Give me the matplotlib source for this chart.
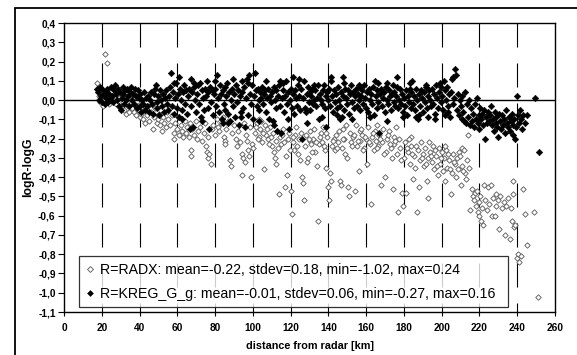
import matplotlib
matplotlib.use('Agg')
import matplotlib.pyplot as plt
from matplotlib.patches import Rectangle
from matplotlib.ticker import FuncFormatter, MultipleLocator

plt.rcParams['font.family'] = ['Liberation Sans', 'DejaVu Sans']
plt.rcParams['axes.unicode_minus'] = False
plt.rcParams['lines.scale_dashes'] = False

# R=RADX (open diamonds): distance [km] and logR-logG
radx_km = [
    17.5, 18, 18.5, 19, 19.5, 20, 20.5, 21, 21.5, 22, 22.5, 23, 23.5, 24, 24.5,
    25, 26, 26.5, 27, 27.5, 28, 29, 29.5, 30, 31, 31.5, 32, 33, 33.5, 34, 34.5,
    35, 36, 36.5, 37, 38, 38.5, 39, 40, 40.5, 41, 42, 42.5, 43, 44, 44.5,
    45, 46, 47, 47.5, 48, 49, 50, 50.5, 51, 52, 52.5, 53, 54, 54.5,
    55, 56, 57, 58, 58.5, 59, 60, 60.5, 61, 62, 62.5, 63, 64, 64.5,
    65, 66, 66.5, 67, 67.5, 68, 69, 70, 70.5, 71, 72, 73, 74, 74.5,
    75, 75.5, 76, 76.5, 77, 78, 78.5, 79, 80, 81, 81.5, 82, 83, 84, 84.5, 85,
    85.5, 86, 87, 88, 88.5, 89, 90, 91, 91.5, 92, 93, 94, 94.5, 95, 95.5,
    96, 96.5, 97, 97.5, 98, 98.5, 99, 99.5, 100, 101, 102, 103, 103.5, 104, 105,
    106, 106.5, 107, 108, 109, 110, 110.5, 111, 111.5, 112, 112.5, 113, 114, 114.5, 115,
    116, 117, 117.5, 118, 118.5, 119, 120, 120.5, 121, 122, 122.5, 123, 124, 124.5, 125,
    126, 126.5, 127, 127.5, 128, 128.5, 129, 130, 130.5, 131, 132, 133, 134, 134.5, 135,
    136, 136.5, 137, 138, 139, 139.5, 140, 140.5, 141, 141.5, 142, 143, 143.5, 144, 145,
    146, 146.5, 147, 148, 148.5, 149, 150, 150.5, 151, 151.5, 152, 153, 154, 154.5, 155,
    156, 156.5, 157, 158, 159, 160, 160.5, 161, 162, 162.5, 163, 164, 164.5, 165,
    166, 166.5, 167, 168, 168.5, 169, 170, 170.5, 171, 172, 173, 174, 174.5, 175,
    176, 176.5, 177, 177.5, 178, 179, 179.5, 180, 180.5, 181, 182, 183, 183.5, 184, 185,
    185.5, 186, 187, 187.5, 188, 188.5, 189, 190, 190.5, 191, 192, 192.5, 193, 194, 195,
    195.5, 196, 197, 198, 198.5, 199, 200, 200.5, 201, 202, 202.5, 203, 204, 205, 205.5,
    206, 207, 207.5, 208, 208.5, 209, 210, 210.5, 211, 212, 212.5, 213, 214, 214.5, 215,
    216, 216.5, 217, 217.5, 218, 218.5, 219, 219.5, 220, 220.5, 221, 221.5, 222, 222.5, 223, 224, 224.5, 225,
    226, 226.5, 227, 228, 228.5, 229, 230, 230.5, 231, 232, 233, 233.5, 234, 235,
    236, 236.5, 237, 237.5, 238, 238.5, 239, 240, 240.5, 241, 242, 243, 244, 245, 249, 251,
    101.5, 102.5, 104.5, 105.5, 107.5, 108.5, 109.5, 113.5, 115.5, 116.5,
    119.5, 121.5, 123.5, 125.5, 129.5, 131.5, 132.5, 133.5, 135.5, 137.5,
    138.5, 142.5, 144.5, 145.5, 147.5, 149.5, 152.5, 153.5, 155.5, 157.5,
    158.5, 159.5, 161.5, 163.5, 165.5, 167.5, 169.5, 171.5, 172.5, 173.5,
    175.5, 178.5, 181.5, 182.5, 184.5, 186.5, 189.5, 191.5, 193.5, 194.5,
    196.5, 197.5, 199.5, 201.5, 203.5, 204.5, 206.5, 209.5, 211.5, 213.5,
]
radx_diff = [
    0.09, 0.05, 0.02, -0.01, 0.04, 0.035, -0.03, 0.0, 0.24, 0.02, 0.01, 0.19, 0.05, -0.02, 0.03,
    0.04, 0.0, 0.06, 0.02, -0.02, 0.05, 0.01, -0.04, 0.03, -0.01, 0.04, -0.05, -0.07, 0.02, -0.03, -0.06,
    -0.02, -0.04, 0.01, -0.06, -0.08, -0.03, -0.05, -0.09, -0.02, -0.07, -0.1, -0.05, -0.12, -0.08, -0.03,
    -0.11, -0.06, -0.15, -0.09, -0.04, -0.12, -0.1, -0.07, -0.13, -0.16, -0.09, -0.12, -0.14, -0.06,
    -0.1, -0.13, -0.08, -0.17, -0.2, -0.12, -0.15, -0.09, -0.18, -0.13, -0.16, -0.19, -0.11, -0.17,
    -0.14, -0.19, -0.12, -0.26, -0.29, -0.15, -0.18, -0.11, -0.2, -0.16, -0.14, -0.21, -0.17, -0.12,
    -0.24, -0.27, -0.3, -0.19, -0.28, -0.33, -0.15, -0.13, -0.18, -0.1, -0.14, -0.16, -0.12, -0.09, -0.19, -0.21,
    -0.23, -0.15, -0.11, -0.31, -0.34, -0.17, -0.13, -0.2, -0.24, -0.16, -0.22, -0.28, -0.39, -0.3, -0.12,
    -0.32, -0.18, -0.21, -0.26, -0.29, -0.14, -0.4, -0.23, -0.25, -0.17, -0.12, -0.1, -0.19, -0.15, -0.22,
    -0.36, -0.13, -0.18, -0.2, -0.14, -0.24, -0.17, -0.27, -0.3, -0.33, -0.21, -0.16, -0.49, -0.19, -0.23,
    -0.15, -0.45, -0.29, -0.39, -0.2, -0.17, -0.47, -0.59, -0.22, -0.26, -0.18, -0.14, -0.28, -0.2, -0.31,
    -0.4, -0.43, -0.52, -0.24, -0.18, -0.32, -0.3, -0.21, -0.16, -0.23, -0.2, -0.27, -0.34, -0.63, -0.23,
    -0.17, -0.22, -0.14, -0.26, -0.35, -0.19, -0.45, -0.52, -0.38, -0.42, -0.24, -0.2, -0.26, -0.18, -0.22,
    -0.42, -0.44, -0.25, -0.15, -0.2, -0.28, -0.3, -0.45, -0.5, -0.17, -0.22, -0.19, -0.47, -0.13, -0.24,
    -0.37, -0.16, -0.21, -0.18, -0.25, -0.2, -0.33, -0.14, -0.23, -0.54, -0.19, -0.26, -0.16, -0.21,
    -0.13, -0.24, -0.18, -0.44, -0.22, -0.15, -0.4, -0.27, -0.2, -0.16, -0.25, -0.46, -0.19, -0.23,
    -0.14, -0.28, -0.58, -0.2, -0.25, -0.48, -0.55, -0.3, -0.22, -0.48, -0.27, -0.33, -0.24, -0.19, -0.41,
    -0.29, -0.35, -0.58, -0.26, -0.45, -0.31, -0.22, -0.28, -0.34, -0.25, -0.42, -0.3, -0.51, -0.27, -0.32,
    -0.24, -0.36, -0.29, -0.39, -0.25, -0.33, -0.27, -0.37, -0.3, -0.42, -0.26, -0.35, -0.31, -0.49, -0.38,
    -0.28, -0.33, -0.4, -0.3, -0.36, -0.27, -0.44, -0.34, -0.25, -0.26, -0.38, -0.41, -0.18, -0.35, -0.57,
    -0.46, -0.5, -0.52, -0.48, -0.55, -0.47, -0.58, -0.53, -0.6, -0.5, -0.63, -0.56, -0.65, -0.44, -0.52, -0.57, -0.45, -0.54,
    -0.44, -0.6, -0.51, -0.6, -0.49, -0.55, -0.52, -0.67, -0.5, -0.56, -0.53, -0.7, -0.55, -0.51,
    -0.72, -0.56, -0.63, -0.49, -0.42, -0.66, -0.65, -0.82, -0.8, -0.84, -0.81, -0.46, -0.59, -0.75, -0.58, -1.02,
    -0.14, -0.2, -0.11, -0.17, -0.15, -0.23, -0.19, -0.25, -0.18, -0.22,
    -0.26, -0.19, -0.24, -0.17, -0.2, -0.27, -0.15, -0.22, -0.19, -0.24,
    -0.17, -0.21, -0.25, -0.16, -0.2, -0.13, -0.24, -0.18, -0.21, -0.15,
    -0.26, -0.19, -0.22, -0.17, -0.25, -0.2, -0.28, -0.18, -0.23, -0.3,
    -0.21, -0.31, -0.25, -0.2, -0.28, -0.24, -0.3, -0.33, -0.22, -0.29,
    -0.26, -0.34, -0.3, -0.24, -0.28, -0.36, -0.32, -0.29, -0.37, -0.31,
]

# R=KREG_G_g (filled diamonds)
kreg_km = [
    17.5, 18, 18.5, 19, 19.5, 20, 20.5, 21, 21.5, 22, 22.5, 23, 23.5, 24, 24.5,
    25, 25.5, 26, 26.5, 27, 27.5, 28, 28.5, 29, 29.5, 30, 30.5, 31, 31.5, 32, 32.5, 33, 33.5, 34, 34.5,
    35, 35.5, 36, 36.5, 37, 37.5, 38, 38.5, 39, 39.5, 40, 40.5, 41, 41.5, 42, 42.5, 43, 43.5, 44, 44.5,
    45, 45.5, 46, 46.5, 47, 47.5, 48, 48.5, 49, 49.5, 50, 50.5, 51, 51.5, 52, 52.5, 53, 53.5, 54, 54.5,
    55, 55.5, 56, 56.5, 57, 57.5, 58, 58.5, 59, 59.5, 60, 60.5, 61, 61.5, 62, 62.5, 63, 63.5, 64, 64.5,
    65, 65.5, 66, 66.5, 67, 67.5, 68, 68.5, 69, 69.5, 70, 70.5, 71, 71.5, 72, 72.5, 73, 73.5, 74, 74.5,
    75, 75.5, 76, 76.5, 77, 77.5, 78, 78.5, 79, 79.5, 80, 80.5, 81, 81.5, 82, 82.5, 83, 83.5, 84, 84.5,
    85, 85.5, 86, 86.5, 87, 87.5, 88, 88.5, 89, 89.5, 90, 90.5, 91, 91.5, 92, 92.5, 93, 93.5, 94, 94.5,
    95, 95.5, 96, 96.5, 97, 97.5, 98, 98.5, 99, 99.5, 100, 100.5, 101, 101.5, 102, 102.5, 103, 103.5, 104, 104.5,
    105, 105.5, 106, 106.5, 107, 107.5, 108, 108.5, 109, 109.5, 110, 110.5, 111, 111.5, 112, 112.5, 113, 113.5, 114, 114.5,
    115, 115.5, 116, 116.5, 117, 117.5, 118, 118.5, 119, 119.5, 120, 120.5, 121, 121.5, 122, 122.5, 123, 123.5, 124, 124.5,
    125, 125.5, 126, 126.5, 127, 127.5, 128, 128.5, 129, 129.5, 130, 130.5, 131, 131.5, 132, 132.5, 133, 133.5, 134, 134.5,
    135, 135.5, 136, 136.5, 137, 137.5, 138, 138.5, 139, 139.5, 140, 140.5, 141, 141.5, 142, 142.5, 143, 143.5, 144, 144.5,
    145, 145.5, 146, 146.5, 147, 147.5, 148, 148.5, 149, 149.5, 150, 150.5, 151, 151.5, 152, 152.5, 153, 153.5, 154, 154.5,
    155, 155.5, 156, 156.5, 157, 157.5, 158, 158.5, 159, 159.5, 160, 160.5, 161, 161.5, 162, 162.5, 163, 163.5, 164, 164.5,
    165, 165.5, 166, 166.5, 167, 167.5, 168, 168.5, 169, 169.5, 170, 170.5, 171, 171.5, 172, 172.5, 173, 173.5, 174, 174.5,
    175, 175.5, 176, 176.5, 177, 177.5, 178, 178.5, 179, 179.5, 180, 180.5, 181, 181.5, 182, 182.5, 183, 183.5, 184, 184.5,
    185, 185.5, 186, 186.5, 187, 187.5, 188, 188.5, 189, 189.5, 190, 190.5, 191, 191.5, 192, 192.5, 193, 193.5, 194, 194.5,
    195, 195.5, 196, 196.5, 197, 197.5, 198, 198.5, 199, 199.5, 200, 200.5, 201, 201.5, 202, 202.5, 203, 203.5, 204, 204.5,
    205, 205.5, 206, 206.5, 207, 207.5, 208, 208.5, 209, 209.5, 210, 210.5, 211, 211.5, 212, 212.5, 213, 213.5, 214, 214.5,
    215, 215.5, 216, 216.5, 217, 217.5, 218, 218.5, 219, 219.5, 220, 220.5, 221, 221.5, 222, 222.5, 223, 223.5, 224, 224.5,
    225, 225.5, 226, 226.5, 227, 227.5, 228, 228.5, 229, 229.5, 230, 230.5, 231, 231.5, 232, 232.5, 233, 233.5, 234, 234.5,
    235, 235.5, 236, 236.5, 237, 237.5, 238, 238.5, 239, 239.5, 240, 240.5, 241, 241.5, 242, 242.5, 243, 244, 245, 249.5, 251.5,
    62.3, 68.7, 73.2, 79.8, 84.2, 89.3, 93.7, 97.2, 103.2, 106.8,
    111.3, 116.2, 118.8, 124.3, 128.7, 132.2, 136.8, 141.2, 144.8, 148.2,
    152.7, 156.2, 161.8, 166.2, 170.8, 176.2, 179.7, 183.2, 188.2, 191.8,
    196.2, 199.8, 203.2, 206.2, 60.8, 86.8, 114.2, 146.2, 171.2, 186.2,
]
kreg_diff = [
    0.06, 0.04, 0.0, 0.07, 0.02, -0.01, 0.05, 0.03, -0.02, 0.04, 0.01, 0.06, -0.01, 0.03, 0.0,
    0.07, 0.02, -0.01, 0.05, 0.08, 0.03, 0.0, 0.06, -0.03, 0.04, -0.05, 0.01, 0.07, 0.03, -0.02, 0.05, 0.0, 0.06, 0.02, -0.03,
    0.04, 0.07, 0.0, 0.03, -0.02, 0.06, 0.02, -0.04, 0.05, 0.01, -0.03, 0.03, -0.06, 0.0, -0.02, 0.04, -0.05, 0.01, -0.03, 0.02,
    -0.06, 0.0, 0.04, -0.02, -0.07, 0.03, 0.06, 0.08, -0.01, -0.04, 0.02, -0.08, 0.05, 0.0, -0.03, 0.03, -0.06, 0.01, 0.05, -0.02,
    -0.05, 0.02, 0.07, 0.14, -0.03, 0.04, 0.09, -0.07, 0.01, 0.09, -0.04, 0.03, -0.09, 0.06, 0.0, -0.05, 0.04, 0.08, -0.02, 0.05,
    -0.07, 0.02, 0.06, -0.15, 0.11, -0.03, 0.04, -0.14, 0.07, 0.0, -0.06, 0.03, 0.08, -0.02, 0.09, -0.09, 0.05, 0.01, -0.05, 0.06,
    0.02, 0.1, -0.04, 0.04, -0.15, 0.07, -0.01, 0.05, -0.08, 0.03, 0.06, -0.03, 0.13, 0.01, -0.06, 0.08, 0.03, -0.1, 0.05, -0.02,
    0.07, -0.05, 0.02, 0.09, -0.07, 0.04, -0.11, 0.0, 0.06, -0.03, 0.03, -0.09, 0.08, -0.01, 0.05, -0.13, 0.02, -0.06, 0.1, 0.04,
    -0.04, 0.07, -0.14, 0.01, 0.11, -0.08, 0.13, 0.03, -0.02, 0.08, -0.1, 0.02, 0.14, 0.05, -0.03, 0.06, 0.0, -0.05, 0.04, 0.01,
    0.07, -0.02, 0.03, 0.05, -0.06, 0.01, 0.06, -0.1, 0.02, -0.01, 0.04, -0.11, 0.07, 0.0, -0.04, 0.05, -0.16, 0.02, 0.08, -0.03,
    -0.17, 0.01, 0.05, -0.06, 0.02, 0.1, -0.02, 0.04, -0.15, 0.0, 0.06, -0.04, 0.12, 0.03, -0.07, 0.05, 0.01, -0.03, 0.08, 0.02,
    -0.05, 0.06, -0.2, 0.01, 0.1, -0.04, -0.06, 0.03, 0.07, -0.01, 0.04, -0.05, 0.02, 0.06, -0.02, 0.0, 0.05, -0.03, 0.01, 0.08,
    -0.1, 0.03, 0.0, -0.02, 0.05, 0.08, -0.04, 0.02, -0.14, 0.04, 0.0, 0.06, -0.03, 0.12, 0.02, -0.06, 0.05, -0.01, 0.03, -0.04,
    0.07, 0.0, -0.03, 0.04, -0.09, 0.12, 0.02, -0.05, 0.06, 0.01, -0.02, 0.05, -0.07, 0.03, 0.08, -0.01, 0.04, -0.04, 0.02, 0.06,
    -0.03, 0.03, 0.0, 0.07, -0.05, 0.02, 0.05, -0.02, 0.08, 0.01, -0.04, 0.04, -0.06, 0.06, 0.0, 0.03, -0.02, 0.07, -0.08, 0.1,
    0.02, -0.04, 0.05, -0.01, -0.17, 0.03, 0.06, -0.03, 0.01, 0.04, -0.06, 0.07, 0.0, -0.02, 0.05, 0.02, -0.05, 0.03, 0.08, -0.01,
    0.04, -0.03, 0.02, 0.12, -0.04, 0.0, 0.06, -0.02, 0.03, -0.06, 0.01, -0.03, 0.05, -0.08, 0.02, -0.01, 0.06, -0.04, 0.04, 0.1,
    -0.02, 0.02, -0.05, 0.06, 0.0, -0.1, 0.03, -0.03, 0.05, 0.01, -0.06, 0.04, -0.01, 0.07, -0.04, 0.02, -0.09, 0.05, 0.0, -0.03,
    0.06, -0.02, 0.03, -0.07, 0.08, 0.01, -0.04, 0.04, 0.09, -0.01, 0.02, -0.05, 0.1, 0.05, -0.08, 0.0, 0.07, -0.03, 0.03, -0.09,
    0.04, 0.11, -0.02, 0.01, 0.16, 0.13, -0.05, 0.03, -0.08, 0.0, -0.03, -0.1, 0.02, -0.06, -0.11, 0.04, -0.12, -0.02, -0.09, 0.0,
    -0.13, -0.04, -0.11, -0.07, -0.14, -0.02, -0.1, 0.01, -0.12, -0.08, -0.15, -0.04, -0.1, -0.07, -0.13, -0.05, -0.2, -0.09, -0.12, -0.06,
    -0.11, -0.08, -0.03, -0.13, -0.1, -0.16, -0.06, -0.12, -0.09, -0.14, -0.19, -0.07, -0.11, -0.15, -0.08, -0.13, -0.1, -0.17, -0.05, -0.12,
    -0.14, -0.09, -0.16, -0.11, -0.07, -0.13, -0.18, -0.1, -0.2, -0.14, 0.02, -0.08, -0.12, -0.05, -0.1, -0.15, -0.08, -0.12, -0.08, 0.01, -0.27,
    -0.1, 0.09, -0.11, 0.1, -0.12, 0.11, -0.09, 0.09, -0.11, 0.1,
    -0.13, 0.09, -0.1, 0.11, -0.12, 0.08, -0.09, 0.1, -0.08, 0.09,
    -0.1, 0.08, -0.09, 0.09, -0.11, 0.07, -0.09, 0.09, -0.08, 0.08,
    -0.1, 0.07, -0.06, 0.12, 0.12, -0.12, 0.1, -0.1, 0.09, -0.09,
]

labels = [
    'R=RADX: mean=-0.22, stdev=0.18, min=-1.02, max=0.24',
    'R=KREG_G_g: mean=-0.01, stdev=0.06, min=-0.27, max=0.16',
]
x_ticks = list(range(0, 261, 20))

fig = plt.figure(figsize=(5.77, 3.55), dpi=100)
ax = fig.add_axes([64 / 577, 1 - 312 / 355, 491 / 577, 289 / 355])

# outer chart frame (cut off on the right and bottom)
fig.patches.append(Rectangle((15 / 577, -0.2), 1.2, 1.2 - 8 / 355, transform=fig.transFigure,
                             fill=False, edgecolor='black', linewidth=1.3, clip_on=False))

# dashed vertical gridlines, drawn from the top down
for xv in x_ticks[1:-1]:
    ax.plot([xv, xv], [0.4, -1.1], color='black', linewidth=0.8,
            linestyle=(0, (17.3, 11.5)), zorder=1)
ax.axhline(0, color='black', linewidth=1.0, zorder=1.5)

ax.plot(radx_km, radx_diff, linestyle='none', marker='D', markersize=2.8,
        markerfacecolor='white', markeredgecolor='#555555', markeredgewidth=0.6,
        label=labels[0], zorder=2)
ax.plot(kreg_km, kreg_diff, linestyle='none', marker='D', markersize=3.3,
        markerfacecolor='black', markeredgecolor='black', markeredgewidth=0.4,
        label=labels[1], zorder=3)

ax.set_xlim(0, 260)
ax.set_ylim(-1.1, 0.4)
ax.set_xticks(x_ticks)
ax.yaxis.set_major_locator(MultipleLocator(0.1))
ax.yaxis.set_major_formatter(FuncFormatter(lambda v, p: f'{v:.1f}'.replace('.', ',')))
ax.tick_params(axis='y', direction='out', length=4, width=0.8, labelsize=7.3, pad=2)
ax.tick_params(axis='x', direction='out', length=3, width=0.8, labelsize=7.3, pad=5)
for lab in ax.get_xticklabels() + ax.get_yticklabels():
    lab.set_fontweight('bold')
for s in ax.spines.values():
    s.set_linewidth(1.0)

ax.set_xlabel('distance from radar [km]', fontsize=7.8, fontweight='bold', labelpad=6)
ax.set_ylabel('logR-logG', fontsize=8.8, fontweight='bold', labelpad=3)

leg = ax.legend(loc='lower left', bbox_to_anchor=(0.0305, 0.0173, 0.874, 0.197), mode='expand',
                fontsize=10.2, frameon=True, fancybox=False, borderpad=0.45, labelspacing=0.7,
                handlelength=0.6, handletextpad=0.4, borderaxespad=0)
leg.get_frame().set_edgecolor('black')
leg.get_frame().set_linewidth(0.9)
for h in leg.legend_handles:
    h.set_markersize(3.0)

fig.savefig('out.png', dpi=100)
